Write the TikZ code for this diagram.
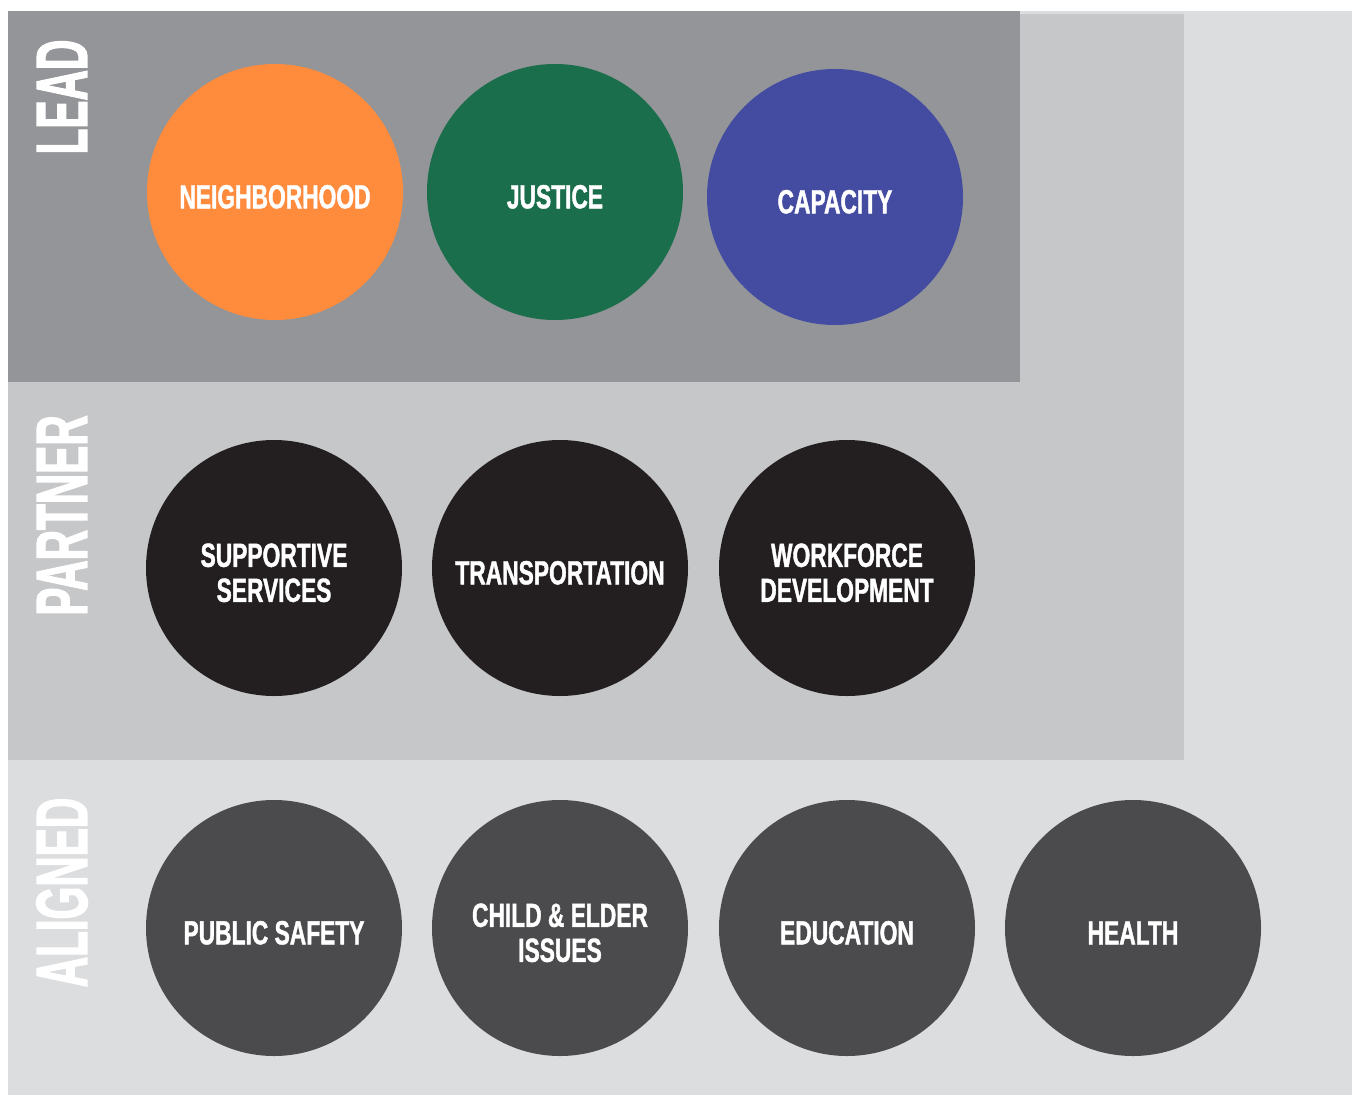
\documentclass[tikz,border=0pt]{standalone}
\usepackage{fontspec}
\setmainfont{Liberation Sans}
\newfontfamily\circfont[FakeStretch=0.68,FakeBold=1.2]{Liberation Sans Bold}
\newfontfamily\tierfont[FakeStretch=0.58,FakeBold=1.6]{Liberation Sans Bold}
\definecolor{bgAligned}{HTML}{DCDDDF}
\definecolor{bgPartner}{HTML}{C6C7C9}
\definecolor{bgLead}{HTML}{939598}
\definecolor{cOrange}{HTML}{FF8B3D}
\definecolor{cGreen}{HTML}{1B6E4B}
\definecolor{cBlue}{HTML}{444CA1}
\definecolor{cBlack}{HTML}{231F20}
\definecolor{cGray}{HTML}{4B4B4D}
\tikzset{
  area/.style={fill=#1, draw=none},
  issue/.style={circle, fill=#1, draw=none, minimum size=256pt, inner sep=0pt,
    text=white, align=center, text height=33pt,
    font=\circfont\fontsize{33.5}{35}\selectfont},
  twoline/.style={text height=68pt},
  tier/.style={rotate=90, text=white, inner sep=0pt,
    font=\tierfont\fontsize{72.6}{72.6}\selectfont}
}
\begin{document}
\begin{tikzpicture}[x=1pt,y=-1pt]
\useasboundingbox (0,0) rectangle (1353,1095);
% tier bands
\fill[area=bgAligned] (8,11) rectangle (1352,1095);
\fill[area=bgPartner] (8,14) rectangle (1184,760);
\fill[area=bgLead] (8,11) rectangle (1020,382);
% tier titles
\node[tier] (tLead) at (62,97) {LEAD};
\node[tier] (tPartner) at (62,515.5) {PARTNER};
\node[tier] (tAligned) at (62,892.5) {ALIGNED};
% lead
\node[issue=cOrange] (neigh) at (275,192) {NEIGHBORHOOD};
\node[issue=cGreen] (justice) at (555,192) {JUSTICE};
\node[issue=cBlue] (capacity) at (835,197) {CAPACITY};
% partner
\node[issue=cBlack, twoline] (support) at (274,568) {SUPPORTIVE\\SERVICES};
\node[issue=cBlack] (transport) at (560,568) {TRANSPORTATION};
\node[issue=cBlack, twoline] (workforce) at (847,568) {WORKFORCE\\DEVELOPMENT};
% aligned
\node[issue=cGray] (safety) at (274,928) {PUBLIC SAFETY};
\node[issue=cGray, twoline] (child) at (560,928) {CHILD \& ELDER\\ISSUES};
\node[issue=cGray] (education) at (847,928) {EDUCATION};
\node[issue=cGray] (health) at (1133,928) {HEALTH};
\end{tikzpicture}
\end{document}
